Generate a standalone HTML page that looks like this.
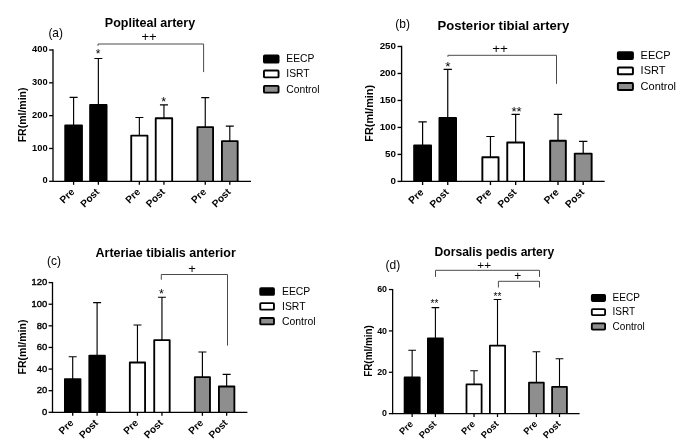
<!DOCTYPE html>
<html><head><meta charset="utf-8"><title>Figure</title>
<style>html,body{margin:0;padding:0;background:#fff}svg{display:block;will-change:transform}text{font-family:"Liberation Sans", sans-serif;fill:#000}</style>
</head><body>
<svg width="685" height="446" viewBox="0 0 685 446">
<rect width="685" height="446" fill="#fff"/>
<path d="M73.6 125.4V97.4M69.6 97.4H77.6" stroke="#000" stroke-width="1.15" fill="none"/>
<path d="M65.22 181.3V125.4H81.98V181.3" fill="#000" stroke="#000" stroke-width="1.85" stroke-linejoin="round"/>
<path d="M73.6 181.3V184.8" stroke="#000" stroke-width="1.3"/>
<text transform="translate(75.2 192.6) rotate(-45)" text-anchor="end" font-size="10.1" font-weight="bold">Pre</text>
<path d="M98.35 105V58.5M94.35 58.5H102.35" stroke="#000" stroke-width="1.15" fill="none"/>
<path d="M90.12 181.3V105H106.58V181.3" fill="#000" stroke="#000" stroke-width="1.85" stroke-linejoin="round"/>
<path d="M98.35 181.3V184.8" stroke="#000" stroke-width="1.3"/>
<text transform="translate(99.95 192.6) rotate(-45)" text-anchor="end" font-size="10.1" font-weight="bold">Post</text>
<path d="M139.35 135.6V117.5M135.35 117.5H143.35" stroke="#000" stroke-width="1.15" fill="none"/>
<path d="M131.23 181.3V135.6H147.47V181.3" fill="#fff" stroke="#000" stroke-width="1.85" stroke-linejoin="round"/>
<path d="M139.35 181.3V184.8" stroke="#000" stroke-width="1.3"/>
<text transform="translate(140.95 192.6) rotate(-45)" text-anchor="end" font-size="10.1" font-weight="bold">Pre</text>
<path d="M163.95 118.2V104.8M159.95 104.8H167.95" stroke="#000" stroke-width="1.15" fill="none"/>
<path d="M155.73 181.3V118.2H172.17V181.3" fill="#fff" stroke="#000" stroke-width="1.85" stroke-linejoin="round"/>
<path d="M163.95 181.3V184.8" stroke="#000" stroke-width="1.3"/>
<text transform="translate(165.55 192.6) rotate(-45)" text-anchor="end" font-size="10.1" font-weight="bold">Post</text>
<path d="M205.25 127.1V97.6M201.25 97.6H209.25" stroke="#000" stroke-width="1.15" fill="none"/>
<path d="M197.43 181.3V127.1H213.07V181.3" fill="#8e8e8e" stroke="#000" stroke-width="1.85" stroke-linejoin="round"/>
<path d="M205.25 181.3V184.8" stroke="#000" stroke-width="1.3"/>
<text transform="translate(206.85 192.6) rotate(-45)" text-anchor="end" font-size="10.1" font-weight="bold">Pre</text>
<path d="M229.8 141.1V126.1M225.8 126.1H233.8" stroke="#000" stroke-width="1.15" fill="none"/>
<path d="M221.93 181.3V141.1H237.67V181.3" fill="#8e8e8e" stroke="#000" stroke-width="1.85" stroke-linejoin="round"/>
<path d="M229.8 181.3V184.8" stroke="#000" stroke-width="1.3"/>
<text transform="translate(231.4 192.6) rotate(-45)" text-anchor="end" font-size="10.1" font-weight="bold">Post</text>
<path d="M53 49.35V181.3H251" stroke="#000" stroke-width="1.3" fill="none" stroke-linejoin="miter"/>
<path d="M49.1 181.3H53" stroke="#000" stroke-width="1.3"/>
<text x="47.6" y="183.43" text-anchor="end" font-size="9.3" font-weight="bold">0</text>
<path d="M49.1 148.48H53" stroke="#000" stroke-width="1.3"/>
<text x="47.6" y="150.6" text-anchor="end" font-size="9.3" font-weight="bold">100</text>
<path d="M49.1 115.65H53" stroke="#000" stroke-width="1.3"/>
<text x="47.6" y="117.78" text-anchor="end" font-size="9.3" font-weight="bold">200</text>
<path d="M49.1 82.83H53" stroke="#000" stroke-width="1.3"/>
<text x="47.6" y="84.95" text-anchor="end" font-size="9.3" font-weight="bold">300</text>
<path d="M49.1 50H53" stroke="#000" stroke-width="1.3"/>
<text x="47.6" y="52.13" text-anchor="end" font-size="9.3" font-weight="bold">400</text>
<text transform="translate(25.6 114.9) rotate(-90) scale(1 1)" text-anchor="middle" font-size="10.5" font-weight="bold">FR(ml/min)</text>
<text x="104.8" y="27" font-size="12.5" font-weight="bold">Popliteal artery</text>
<text x="48.4" y="37.4" font-size="11.9">(a)</text>
<path d="M98 45.8V44H203.6V72.1" stroke="#4a4a4a" stroke-width="1" fill="none"/>
<text x="149" y="40.5" text-anchor="middle" font-size="13" font-weight="normal">++</text>
<text x="98" y="58" text-anchor="middle" font-size="12" font-weight="normal">*</text>
<text x="163.6" y="106.1" text-anchor="middle" font-size="12.5" font-weight="normal">*</text>
<rect x="263.95" y="55.35" width="14.6" height="7.2" rx="0.9" fill="#000" stroke="#000" stroke-width="1.9"/>
<text x="286.3" y="62.26" font-size="10.3">EECP</text>
<rect x="263.95" y="70.55" width="14.6" height="6.8" rx="0.9" fill="#fff" stroke="#000" stroke-width="1.9"/>
<text x="286.3" y="77.26" font-size="10.3">ISRT</text>
<rect x="263.95" y="85.85" width="14.6" height="6.8" rx="0.9" fill="#8e8e8e" stroke="#000" stroke-width="1.9"/>
<text x="286.3" y="92.56" font-size="10.3">Control</text>
<path d="M422.6 145.5V121.9M418.44 121.9H426.76" stroke="#000" stroke-width="1.2" fill="none"/>
<path d="M414.16 181.4V145.5H431.04V181.4" fill="#000" stroke="#000" stroke-width="1.92" stroke-linejoin="round"/>
<path d="M422.6 181.4V185.04" stroke="#000" stroke-width="1.35"/>
<text transform="translate(424.2 192.9) rotate(-45)" text-anchor="end" font-size="10.2" font-weight="bold">Pre</text>
<path d="M447.75 118V69.4M443.59 69.4H451.91" stroke="#000" stroke-width="1.2" fill="none"/>
<path d="M439.46 181.4V118H456.04V181.4" fill="#000" stroke="#000" stroke-width="1.92" stroke-linejoin="round"/>
<path d="M447.75 181.4V185.04" stroke="#000" stroke-width="1.35"/>
<text transform="translate(449.35 192.9) rotate(-45)" text-anchor="end" font-size="10.2" font-weight="bold">Post</text>
<path d="M490.45 157.3V136.5M486.29 136.5H494.61" stroke="#000" stroke-width="1.2" fill="none"/>
<path d="M482.36 181.4V157.3H498.54V181.4" fill="#fff" stroke="#000" stroke-width="1.92" stroke-linejoin="round"/>
<path d="M490.45 181.4V185.04" stroke="#000" stroke-width="1.35"/>
<text transform="translate(492.05 192.9) rotate(-45)" text-anchor="end" font-size="10.2" font-weight="bold">Pre</text>
<path d="M515.65 142.5V114.4M511.49 114.4H519.81" stroke="#000" stroke-width="1.2" fill="none"/>
<path d="M507.26 181.4V142.5H524.04V181.4" fill="#fff" stroke="#000" stroke-width="1.92" stroke-linejoin="round"/>
<path d="M515.65 181.4V185.04" stroke="#000" stroke-width="1.35"/>
<text transform="translate(517.25 192.9) rotate(-45)" text-anchor="end" font-size="10.2" font-weight="bold">Post</text>
<path d="M558 140.7V114.3M553.84 114.3H562.16" stroke="#000" stroke-width="1.2" fill="none"/>
<path d="M550.16 181.4V140.7H565.84V181.4" fill="#8e8e8e" stroke="#000" stroke-width="1.92" stroke-linejoin="round"/>
<path d="M558 181.4V185.04" stroke="#000" stroke-width="1.35"/>
<text transform="translate(559.6 192.9) rotate(-45)" text-anchor="end" font-size="10.2" font-weight="bold">Pre</text>
<path d="M583.2 153.6V141.4M579.04 141.4H587.36" stroke="#000" stroke-width="1.2" fill="none"/>
<path d="M574.76 181.4V153.6H591.64V181.4" fill="#8e8e8e" stroke="#000" stroke-width="1.92" stroke-linejoin="round"/>
<path d="M583.2 181.4V185.04" stroke="#000" stroke-width="1.35"/>
<text transform="translate(584.8 192.9) rotate(-45)" text-anchor="end" font-size="10.2" font-weight="bold">Post</text>
<path d="M401.6 45.82V181.4H604.7" stroke="#000" stroke-width="1.35" fill="none" stroke-linejoin="miter"/>
<path d="M397.54 181.4H401.6" stroke="#000" stroke-width="1.35"/>
<text x="396" y="183.81" text-anchor="end" font-size="9.8" font-weight="bold">0</text>
<path d="M397.54 154.42H401.6" stroke="#000" stroke-width="1.35"/>
<text x="396" y="156.83" text-anchor="end" font-size="9.8" font-weight="bold">50</text>
<path d="M397.54 127.44H401.6" stroke="#000" stroke-width="1.35"/>
<text x="396" y="129.85" text-anchor="end" font-size="9.8" font-weight="bold">100</text>
<path d="M397.54 100.46H401.6" stroke="#000" stroke-width="1.35"/>
<text x="396" y="102.87" text-anchor="end" font-size="9.8" font-weight="bold">150</text>
<path d="M397.54 73.48H401.6" stroke="#000" stroke-width="1.35"/>
<text x="396" y="75.89" text-anchor="end" font-size="9.8" font-weight="bold">200</text>
<path d="M397.54 46.5H401.6" stroke="#000" stroke-width="1.35"/>
<text x="396" y="48.91" text-anchor="end" font-size="9.8" font-weight="bold">250</text>
<text transform="translate(372.5 113.3) rotate(-90) scale(1 1)" text-anchor="middle" font-size="10.9" font-weight="bold">FR(ml/min)</text>
<text x="437.5" y="29.9" font-size="13.1" font-weight="bold">Posterior tibial artery</text>
<text x="395.3" y="28" font-size="12">(b)</text>
<path d="M447.9 56.8V55.3H556.5V83.8" stroke="#4a4a4a" stroke-width="1" fill="none"/>
<text x="500.1" y="53.2" text-anchor="middle" font-size="13.5" font-weight="normal">++</text>
<text x="447.9" y="70.7" text-anchor="middle" font-size="13.5" font-weight="normal">*</text>
<text x="516.6" y="116" text-anchor="middle" font-size="13.2" font-weight="normal">**</text>
<rect x="617.89" y="52.19" width="15.02" height="6.72" rx="0.9" fill="#000" stroke="#000" stroke-width="1.98"/>
<text x="640.6" y="59.11" font-size="11">EECP</text>
<rect x="617.89" y="67.39" width="15.02" height="6.92" rx="0.9" fill="#fff" stroke="#000" stroke-width="1.98"/>
<text x="640.6" y="74.41" font-size="11">ISRT</text>
<rect x="617.89" y="82.99" width="15.02" height="7.02" rx="0.9" fill="#8e8e8e" stroke="#000" stroke-width="1.98"/>
<text x="640.6" y="90.06" font-size="11">Control</text>
<path d="M72.7 379.1V356.7M68.7 356.7H76.7" stroke="#000" stroke-width="1.15" fill="none"/>
<path d="M64.92 412.3V379.1H80.48V412.3" fill="#000" stroke="#000" stroke-width="1.85" stroke-linejoin="round"/>
<path d="M72.7 412.3V415.8" stroke="#000" stroke-width="1.3"/>
<text transform="translate(74.3 423.6) rotate(-45)" text-anchor="end" font-size="10.1" font-weight="bold">Pre</text>
<path d="M97.1 355.6V302.6M93.1 302.6H101.1" stroke="#000" stroke-width="1.15" fill="none"/>
<path d="M89.33 412.3V355.6H104.88V412.3" fill="#000" stroke="#000" stroke-width="1.85" stroke-linejoin="round"/>
<path d="M97.1 412.3V415.8" stroke="#000" stroke-width="1.3"/>
<text transform="translate(98.7 423.6) rotate(-45)" text-anchor="end" font-size="10.1" font-weight="bold">Post</text>
<path d="M137.45 362.5V325M133.45 325H141.45" stroke="#000" stroke-width="1.15" fill="none"/>
<path d="M129.83 412.3V362.5H145.07V412.3" fill="#fff" stroke="#000" stroke-width="1.85" stroke-linejoin="round"/>
<path d="M137.45 412.3V415.8" stroke="#000" stroke-width="1.3"/>
<text transform="translate(139.05 423.6) rotate(-45)" text-anchor="end" font-size="10.1" font-weight="bold">Pre</text>
<path d="M161.95 340.1V297.2M157.95 297.2H165.95" stroke="#000" stroke-width="1.15" fill="none"/>
<path d="M154.23 412.3V340.1H169.67V412.3" fill="#fff" stroke="#000" stroke-width="1.85" stroke-linejoin="round"/>
<path d="M161.95 412.3V415.8" stroke="#000" stroke-width="1.3"/>
<text transform="translate(163.55 423.6) rotate(-45)" text-anchor="end" font-size="10.1" font-weight="bold">Post</text>
<path d="M202.4 377.1V352M198.4 352H206.4" stroke="#000" stroke-width="1.15" fill="none"/>
<path d="M194.83 412.3V377.1H209.97V412.3" fill="#8e8e8e" stroke="#000" stroke-width="1.85" stroke-linejoin="round"/>
<path d="M202.4 412.3V415.8" stroke="#000" stroke-width="1.3"/>
<text transform="translate(204 423.6) rotate(-45)" text-anchor="end" font-size="10.1" font-weight="bold">Pre</text>
<path d="M226.65 386.5V374.3M222.65 374.3H230.65" stroke="#000" stroke-width="1.15" fill="none"/>
<path d="M218.93 412.3V386.5H234.38V412.3" fill="#8e8e8e" stroke="#000" stroke-width="1.85" stroke-linejoin="round"/>
<path d="M226.65 412.3V415.8" stroke="#000" stroke-width="1.3"/>
<text transform="translate(228.25 423.6) rotate(-45)" text-anchor="end" font-size="10.1" font-weight="bold">Post</text>
<path d="M52.5 281.95V412.3H247.4" stroke="#000" stroke-width="1.3" fill="none" stroke-linejoin="miter"/>
<path d="M48.6 412.3H52.5" stroke="#000" stroke-width="1.3"/>
<text x="47.2" y="415.07" text-anchor="end" font-size="9.4" font-weight="normal" stroke="#000" stroke-width="0.4">0</text>
<path d="M48.6 390.68H52.5" stroke="#000" stroke-width="1.3"/>
<text x="47.2" y="393.45" text-anchor="end" font-size="9.4" font-weight="normal" stroke="#000" stroke-width="0.4">20</text>
<path d="M48.6 369.07H52.5" stroke="#000" stroke-width="1.3"/>
<text x="47.2" y="371.83" text-anchor="end" font-size="9.4" font-weight="normal" stroke="#000" stroke-width="0.4">40</text>
<path d="M48.6 347.45H52.5" stroke="#000" stroke-width="1.3"/>
<text x="47.2" y="350.22" text-anchor="end" font-size="9.4" font-weight="normal" stroke="#000" stroke-width="0.4">60</text>
<path d="M48.6 325.83H52.5" stroke="#000" stroke-width="1.3"/>
<text x="47.2" y="328.6" text-anchor="end" font-size="9.4" font-weight="normal" stroke="#000" stroke-width="0.4">80</text>
<path d="M48.6 304.22H52.5" stroke="#000" stroke-width="1.3"/>
<text x="47.2" y="306.98" text-anchor="end" font-size="9.4" font-weight="normal" stroke="#000" stroke-width="0.4">100</text>
<path d="M48.6 282.6H52.5" stroke="#000" stroke-width="1.3"/>
<text x="47.2" y="285.37" text-anchor="end" font-size="9.4" font-weight="normal" stroke="#000" stroke-width="0.4">120</text>
<text transform="translate(25.5 347) rotate(-90) scale(1 1)" text-anchor="middle" font-size="10.5" font-weight="bold">FR(ml/min)</text>
<text x="95.5" y="257" font-size="12.5" font-weight="bold">Arteriae tibialis anterior</text>
<text x="47" y="265.2" font-size="12">(c)</text>
<path d="M161.3 279.7V274.5H227.5V345.6" stroke="#4a4a4a" stroke-width="1" fill="none"/>
<text x="192.1" y="273" text-anchor="middle" font-size="13" font-weight="normal">+</text>
<text x="161.5" y="298" text-anchor="middle" font-size="12.5" font-weight="normal">*</text>
<rect x="260.25" y="288.15" width="13.7" height="6.7" rx="0.9" fill="#000" stroke="#000" stroke-width="1.9"/>
<text x="282" y="294.84" font-size="10.4">EECP</text>
<rect x="260.25" y="303.15" width="13.7" height="6.5" rx="0.9" fill="#fff" stroke="#000" stroke-width="1.9"/>
<text x="282" y="309.74" font-size="10.4">ISRT</text>
<rect x="260.25" y="318.05" width="13.7" height="6.3" rx="0.9" fill="#8e8e8e" stroke="#000" stroke-width="1.9"/>
<text x="282" y="324.54" font-size="10.4">Control</text>
<path d="M412.15 377.4V350.3M408.31 350.3H415.99" stroke="#000" stroke-width="1.1" fill="none"/>
<path d="M404.59 413.65V377.4H419.71V413.65" fill="#000" stroke="#000" stroke-width="1.78" stroke-linejoin="round"/>
<path d="M412.15 413.65V417.01" stroke="#000" stroke-width="1.25"/>
<text transform="translate(413.75 424.65) rotate(-45)" text-anchor="end" font-size="9.4" font-weight="bold">Pre</text>
<path d="M435.4 338.3V307.6M431.56 307.6H439.24" stroke="#000" stroke-width="1.1" fill="none"/>
<path d="M427.89 413.65V338.3H442.91V413.65" fill="#000" stroke="#000" stroke-width="1.78" stroke-linejoin="round"/>
<path d="M435.4 413.65V417.01" stroke="#000" stroke-width="1.25"/>
<text transform="translate(437 424.65) rotate(-45)" text-anchor="end" font-size="9.4" font-weight="bold">Post</text>
<path d="M474.05 384.4V370.7M470.21 370.7H477.89" stroke="#000" stroke-width="1.1" fill="none"/>
<path d="M466.49 413.65V384.4H481.61V413.65" fill="#fff" stroke="#000" stroke-width="1.78" stroke-linejoin="round"/>
<path d="M474.05 413.65V417.01" stroke="#000" stroke-width="1.25"/>
<text transform="translate(475.65 424.65) rotate(-45)" text-anchor="end" font-size="9.4" font-weight="bold">Pre</text>
<path d="M497.5 345.7V299.5M493.66 299.5H501.34" stroke="#000" stroke-width="1.1" fill="none"/>
<path d="M489.89 413.65V345.7H505.11V413.65" fill="#fff" stroke="#000" stroke-width="1.78" stroke-linejoin="round"/>
<path d="M497.5 413.65V417.01" stroke="#000" stroke-width="1.25"/>
<text transform="translate(499.1 424.65) rotate(-45)" text-anchor="end" font-size="9.4" font-weight="bold">Post</text>
<path d="M536.4 382.7V351.7M532.56 351.7H540.24" stroke="#000" stroke-width="1.1" fill="none"/>
<path d="M528.99 413.65V382.7H543.81V413.65" fill="#8e8e8e" stroke="#000" stroke-width="1.78" stroke-linejoin="round"/>
<path d="M536.4 413.65V417.01" stroke="#000" stroke-width="1.25"/>
<text transform="translate(538 424.65) rotate(-45)" text-anchor="end" font-size="9.4" font-weight="bold">Pre</text>
<path d="M559.5 386.9V358.7M555.66 358.7H563.34" stroke="#000" stroke-width="1.1" fill="none"/>
<path d="M552.09 413.65V386.9H566.91V413.65" fill="#8e8e8e" stroke="#000" stroke-width="1.78" stroke-linejoin="round"/>
<path d="M559.5 413.65V417.01" stroke="#000" stroke-width="1.25"/>
<text transform="translate(561.1 424.65) rotate(-45)" text-anchor="end" font-size="9.4" font-weight="bold">Post</text>
<path d="M392.65 288.93V413.65H579.6" stroke="#000" stroke-width="1.25" fill="none" stroke-linejoin="miter"/>
<path d="M388.91 413.65H392.65" stroke="#000" stroke-width="1.25"/>
<text x="387.05" y="416.44" text-anchor="end" font-size="8.9" font-weight="bold">0</text>
<path d="M388.91 372.28H392.65" stroke="#000" stroke-width="1.25"/>
<text x="387.05" y="375.07" text-anchor="end" font-size="8.9" font-weight="bold">20</text>
<path d="M388.91 330.92H392.65" stroke="#000" stroke-width="1.25"/>
<text x="387.05" y="333.7" text-anchor="end" font-size="8.9" font-weight="bold">40</text>
<path d="M388.91 289.55H392.65" stroke="#000" stroke-width="1.25"/>
<text x="387.05" y="292.34" text-anchor="end" font-size="8.9" font-weight="bold">60</text>
<text transform="translate(371.6 351) rotate(-90) scale(0.935 1)" text-anchor="middle" font-size="10.6" font-weight="bold">FR(ml/min)</text>
<text x="434.6" y="256" font-size="12.1" font-weight="bold">Dorsalis pedis artery</text>
<text x="385.6" y="269" font-size="12">(d)</text>
<path d="M435.5 276.9V270.3H539.5V276.9" stroke="#4a4a4a" stroke-width="1" fill="none"/>
<path d="M498.4 287.5V281.3H539.5V287.5" stroke="#4a4a4a" stroke-width="1" fill="none"/>
<text x="484.2" y="269.3" text-anchor="middle" font-size="11.8" font-weight="normal">++</text>
<text x="517.7" y="280.3" text-anchor="middle" font-size="12" font-weight="normal">+</text>
<text x="434.4" y="306.9" text-anchor="middle" font-size="10" font-weight="normal">**</text>
<text x="497.4" y="300.3" text-anchor="middle" font-size="10" font-weight="normal">**</text>
<rect x="591.81" y="294.81" width="13.28" height="6.18" rx="0.9" fill="#000" stroke="#000" stroke-width="1.82"/>
<text x="612.6" y="301.1" font-size="10">EECP</text>
<rect x="591.81" y="309.11" width="13.28" height="6.08" rx="0.9" fill="#fff" stroke="#000" stroke-width="1.82"/>
<text x="612.6" y="315.35" font-size="10">ISRT</text>
<rect x="591.81" y="323.41" width="13.28" height="6.18" rx="0.9" fill="#8e8e8e" stroke="#000" stroke-width="1.82"/>
<text x="612.6" y="329.7" font-size="10">Control</text>
</svg>
</body></html>
